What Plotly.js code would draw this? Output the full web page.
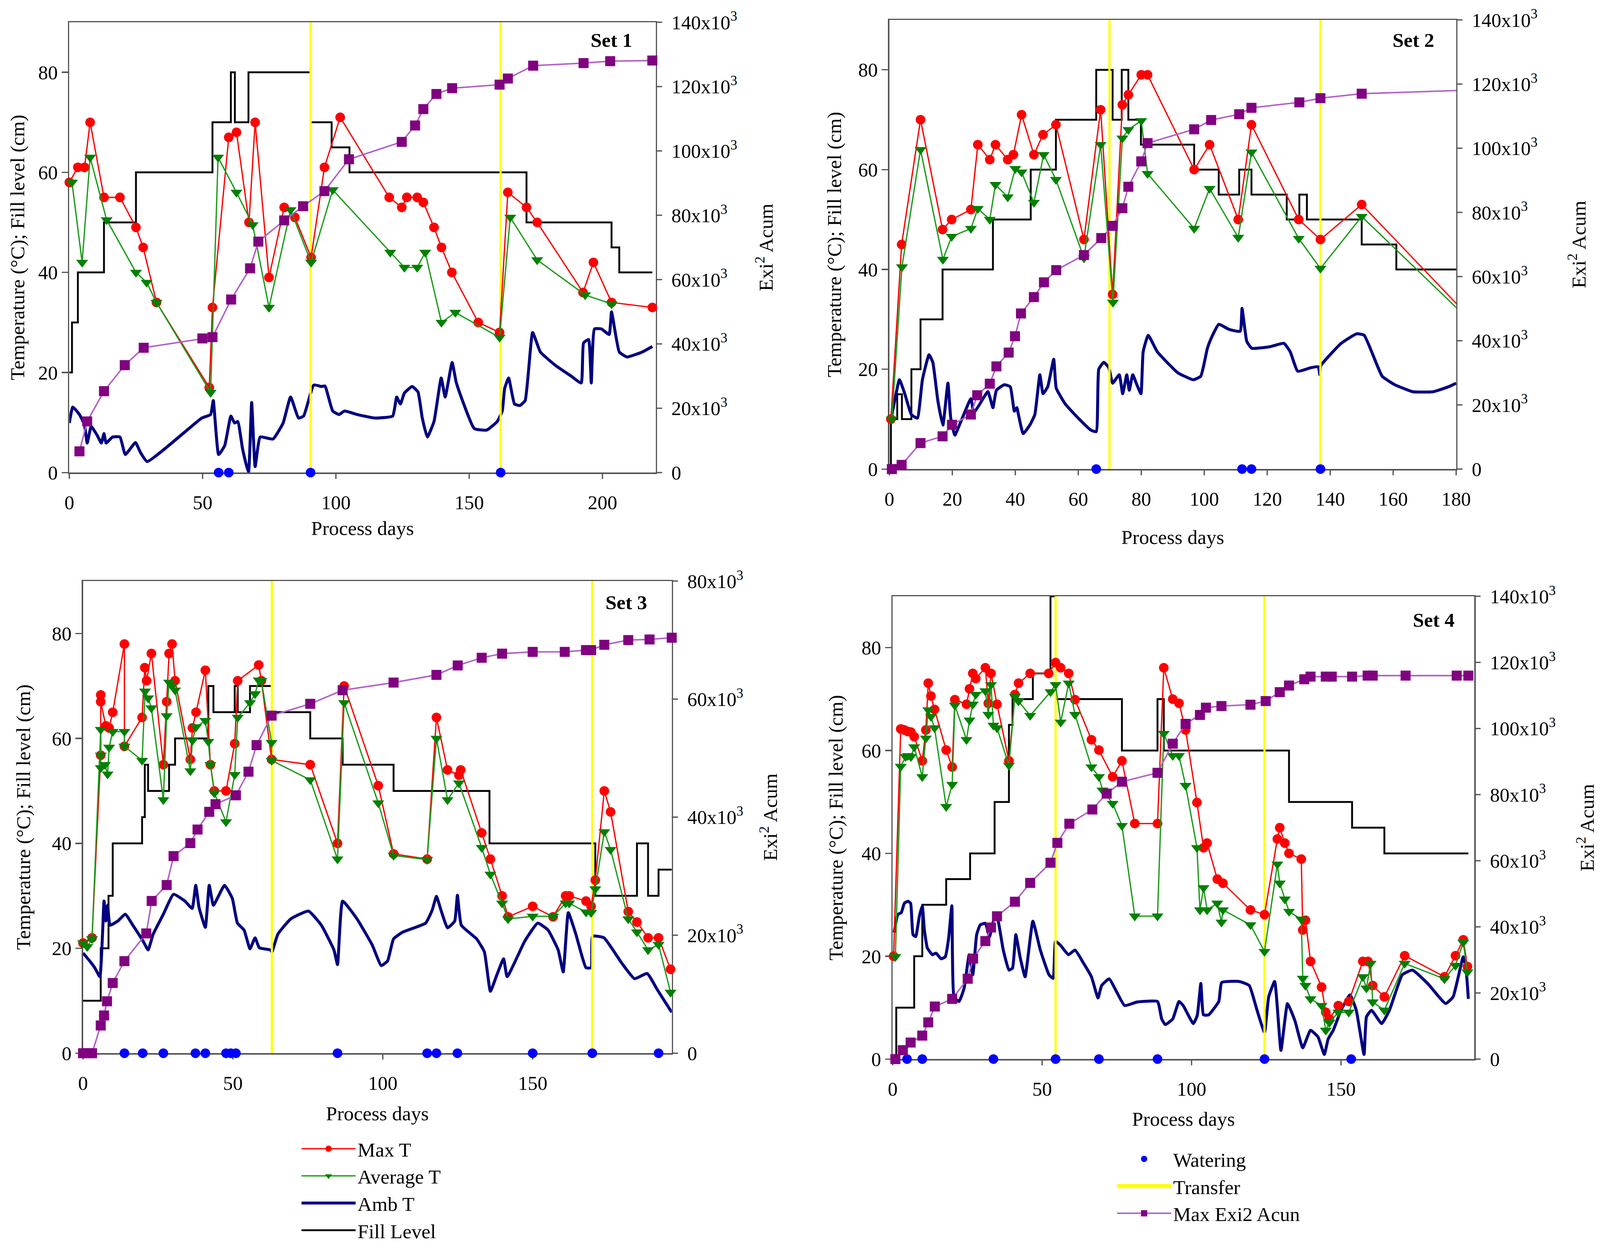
<!DOCTYPE html>
<html>
<head>
<meta charset="utf-8">
<script src="https://cdn.plot.ly/plotly-3.0.1.min.js"></script>
<style>html,body{margin:0;padding:0;background:#fff;overflow:hidden}#chart{position:absolute;left:0;top:0}</style>
</head>
<body>
<div id="chart"></div>
<script>
// ---------------- Set 1 ----------------
const s1MaxX = [0,3.2,5.7,7.8,13,19,25,27.7,32.7,52.5,53.7,59.8,62.7,67.4,69.7,74.9,80.6,84.6,90.7,95.7,101.6,120,124.7,126.6,130.5,132.8,136.8,139.6,143.5,153.4,161.4,164.5,171.5,175.5,192.7,196.6,203.4,218.7];
const s1MaxY = [58,61,61,70,55,55,49,45,34,17,33,67,68,50,70,39,53,51,43,61,71,55,53,55,55,54,49,45,40,30,28,56,53,50,36,42,34,33];
const s1AvgX = [1,4.8,7.8,14,25,29,32.7,53,55.8,62.7,68.8,74.9,83,90.7,98.8,120.4,125.7,130.5,133.5,139.6,144.8,161.4,165.4,175.5,193.5,203.4];
const s1AvgY = [58,42,63,50.5,40,38,34,16,63,56,49.5,33,52.5,42,56.5,44,41,41,44,30,32,27,51,42.5,35.5,33.7];
const s1ExiX = [3.8,6.7,13,20.8,27.9,49.9,53.7,60.7,67.8,70.9,80.6,87.7,95.7,104.9,124.7,129.7,132.8,137.7,143.6,161.4,164.5,174,192.9,202.9,218.7];
const s1ExiY = [6600,15900,25300,33400,38800,41700,42100,53800,63500,71800,78400,82800,87500,97400,102800,107900,113000,117700,119500,120600,122500,126500,127300,127900,128100];
const s1FillX = [0,1,3.2,13,25,53.7,60.6,62.1,67.2,90.5,null,90.5,98.4,105.1,171.5,203.4,206.3,218.7];
const s1FillY = [20,30,40,50,60,70,80,70,80,80,null,70,65,60,50,45,40,40];
const s1Water = [56,59.8,90.5,161.8];
const s1Transfer = [90.5,161.8];
const s1AmbX = [0,1.3,3.8,5.7,6.7,8.2,10.5,12,13,13.8,16.2,19,21,24.8,26.7,29.2,49.7,53,54,56,58.3,60.6,62,63.2,65,67.2,68.4,69.7,71.6,76.4,80.2,83,86,87.9,91.7,94.6,95.9,98.8,101.2,103.2,108,114.6,121.3,122.8,124.2,125.7,128.6,130.8,132.4,134.3,136.8,139.5,141,143.6,145.2,151.9,156.6,160.5,162.4,163.3,164.8,167,169,171,173.8,176.7,182.4,188.2,192,192.9,194.8,195.8,197,199.6,202.5,203.4,206.3,209.2,214.9,218.7];
const s1AmbY = [9.9,13.1,11.6,9.5,5.9,9.2,7.4,5.9,7.8,5.9,7.1,7.1,3.6,6,4,2.2,10.9,11.6,14.4,3.6,5.4,11.3,9.9,10.2,4.7,0,14,1.2,7.1,6.7,9.9,15.1,10.9,11.3,17.5,17.2,17.3,12.3,11.6,12.3,11.6,10.9,11.3,15.1,13.7,15.9,17.2,16.1,10.9,7.1,10.2,18.9,15.1,22,17.9,8.8,8.5,10.2,12.3,16.8,18.9,13.7,13.4,14.4,28,24.1,21.4,19.3,17.9,25.9,26.6,17.9,28.7,28.7,27.6,32.1,24.1,23.1,24.1,25.2];

// ---------------- Set 2 ----------------
const s2MaxX = [0.5,3.9,9.9,16.9,19.8,25.9,28.1,31.9,33.7,37.6,39.4,42,45.9,48.8,52.9,61.8,67.1,70.9,74,75.9,80,82,96.8,101.7,110.8,115,130,136.9,150,180.3];
const s2MaxY = [10,45,70,48,50,52,65,62,65,62,63,71,63,67,69,46,72,35,73,75,79,79,60,65,50,69,50,46,53,33];
const s2AvgX = [0.8,4,9.9,17,19.8,25.9,28.1,31.9,33.7,37.6,40,42,45.9,49,52.9,61.8,67.1,71,74,75.9,80,82,96.8,101.7,110.8,115,130,136.9,150,180.3];
const s2AvgY = [10,40.5,64,42,46.6,48.2,52.2,50,57,54.5,60.2,59.5,53.4,63,58,42.3,65,33.4,66.3,68,69.8,59.2,48.2,56.2,46.4,63.5,46.2,40.2,50.6,32.2];
const s2ExiX = [0.8,3.9,9.9,16.9,19.9,25.9,27.9,31.9,34,37.9,39.9,41.8,45.9,49.1,53,61.8,67.3,70.9,74,75.9,80,82,96.8,102.2,111.1,115,130.2,136.9,150,180.3];
const s2ExiY = [0,1300,8100,10200,13800,17000,23000,26600,32000,36300,41400,48500,53600,58200,62000,66700,72000,75800,81300,88000,95900,101600,105900,108800,110600,112600,114300,115600,117000,118000];
const s2FillX = [0,0.5,2.5,4,7,9.9,16.9,32.9,44.9,52.9,65.7,70.9,73.8,75.9,79.9,96.8,104.6,111.1,115,126.2,130.2,132.6,150,161,180];
const s2FillY = [0,10,15,10,20,30,40,50,60,70,80,70,80,70,65,60,55,60,55,50,55,50,45,40,40];
const s2Water = [65.7,112,115,136.9];
const s2Transfer = [69.9,136.9];
const s2AmbX = [0.5,1.6,3.2,4.9,7,8.9,10.5,12.6,13.8,15.4,17,18.6,19.5,20.8,22.7,25.9,26.8,28.4,31.3,32.9,34,36.5,38.4,39.7,40.5,41,42.5,44.6,46.2,47.8,48.8,50.3,52.2,53,55.9,60,64,65.7,66.5,68.1,69.7,70.9,73,74.1,75.4,76.2,77.3,78.6,79.9,80.6,82.2,85.1,91.6,96.5,98.9,101,102.2,104.6,107.8,111.4,112,113.5,115.1,120.8,125.3,127.3,129.7,133.8,136.2,136.7,137,143.5,148.4,150.8,156.5,160.5,166.2,172.7,177.6,180];
const s2AmbY = [10,13.4,17.9,15.1,10.9,10.2,17.9,22.9,21.4,13.7,8.8,17.2,10.2,6.8,9.5,14.1,11.3,12.7,15.5,12.3,15.8,16.9,16.5,11.6,12.3,10.9,7.1,8.8,10.9,18.9,15.1,16.5,22,16.2,13,10.2,7.8,7.5,20,21.4,20.3,17.2,18.9,15.1,18.9,15.8,18.9,16.9,15.1,23.5,26.8,23.5,19.3,17.9,18.6,24.2,26.2,29,28,27.6,32.2,25.6,24.2,24.5,25.2,23.5,19.6,20.3,20.5,18.9,20.7,25.2,27.1,26.8,18.6,16.9,15.5,15.5,16.5,17.2];

// ---------------- Set 3 ----------------
const s3MaxX = [0,3,5.9,5.9,5.9,7.6,8.7,9.9,13.8,13.8,19.7,20.6,21.2,22.8,26.8,27.9,28.7,29.7,30.7,35.8,36.5,37.7,40.8,42.5,43.8,47.7,50.6,51.6,58.6,59.5,62.9,75.8,84.9,87.1,98.5,103.6,114.8,117.9,121.6,125.4,126,133,135.9,139.8,141.8,150,156.8,161,162.2,167.8,169.5,170.9,173.9,176,181.9,184.8,188.5,192,196];
const s3MaxY = [21,22,56.8,68.3,67,62.4,62,65,78,58.5,64,73.5,71,76.2,55,67,76.2,78,71,56,62,65,73,55,50,50,59,71,74,71,56,55,40,70,51,38,37,64,54,53,54,42,37,30,26,28,26,30,30,29,28,33,50,46,27,25,22,22,16];
const s3AvgX = [0,1.4,3,5.9,5.9,5.9,7.3,8.2,8.7,9.9,13.8,13.8,19.7,20.7,21.7,22.8,26.8,27.9,28.7,29.7,30.7,35.8,36.5,37.7,40.8,41.8,42.5,43.8,47.7,50.6,51.6,55.7,57.4,58.6,59.5,62.9,62.9,75.8,84.9,87.1,98.5,103.6,114.8,117.9,121.6,125.4,133,135.9,139.8,141.8,150,156.8,161,162.2,167.8,169.5,170.9,173.9,176,181.9,184.8,188.5,192,196];
const s3AvgY = [21,20.3,21.8,61.7,56.8,54.4,55,53.2,58.3,61.3,61.3,58.5,55.8,69,67.7,65.8,48.3,64.3,70.7,70,69.2,53.8,59.6,62.2,63.4,59.4,55,49.6,44.1,53.1,64,66.8,68.5,71.1,71,59.2,55.8,52.1,37,66.8,47.7,37.7,36.9,60,48.3,51.5,39.2,34.1,28.6,25.6,26.1,26.1,28.6,28.6,26.9,26.8,31.3,42.2,38.8,25.6,23.1,19.7,20.7,11.6];
const s3ExiX = [0,1.4,3,5.9,7,8,9.9,13.8,21.1,22.9,27.9,30.2,35.8,38.2,42.1,44.2,51,55.2,57.9,62.9,75.8,86.6,103.6,117.9,125,133,139.8,150,160.7,167.8,169.5,173.9,181.9,189,196.4];
const s3ExiY = [0,0,0,4700,6400,8800,11900,15600,20300,25800,28500,33400,35600,37900,40900,42200,43700,47700,52200,57200,59200,61500,62800,64100,65700,67000,67700,68000,68000,68300,68300,69200,70000,70100,70400];
const s3FillX = [0,5.9,8.5,9.9,19.7,20.6,21.7,28.7,30.7,41.8,43.5,50.6,51.6,55.7,62.9,null,62.9,75.8,86.6,103.6,135.6,170.9,184.8,188.5,192,196.4];
const s3FillY = [10,20,30,40,45,55,50,55,60,70,65,70,65,70,70,null,65,60,55,50,40,30,40,30,35,35];
const s3Water = [13.8,19.9,26.8,37.5,40.8,47.7,49.3,51,84.9,114.8,117.9,124.9,150,169.9,192];
const s3Transfer = [63,169.9];
const s3AmbX = [0,2.2,3.9,5.6,6.5,7,7.6,8.2,9,11.6,14.1,16.6,20,21.7,23.4,26.8,30.2,34,36.4,37.6,38.7,40.8,42.1,43.5,47.2,49.8,51.5,53.7,55.7,57.4,58.8,62.5,63,65,69.3,75.2,79.5,83.7,84.9,86.6,91.4,96.5,99.5,101.6,103.6,106.7,114.3,116.5,117.9,119.4,121.6,124,124.9,126.2,131.3,133.9,135.9,138.1,140.3,141.5,147.4,151.7,155.1,158.5,160.2,161.9,164.4,167.8,169.5,170,173.8,179.7,184,188.2,191.6,196.4];
const s3AmbY = [19.1,17.6,16.3,14.6,22.7,29,25.2,28.2,24.4,25.2,26.5,24.4,21.4,19.7,22.7,26.5,30.3,29,27.6,32,27.8,24,32,28.2,32,29.5,24.8,23.5,19.9,22,20.1,19.7,19.3,22.7,25.6,27.1,24.4,19.7,16.9,29,25.6,20.6,16.7,17.6,21.8,23.1,24.8,27.3,29.9,27.3,23.9,25.2,30.1,24.4,21.8,19.3,11.8,15,18,14.6,21.4,24.8,23.5,19.7,15.5,26.8,22.7,16.3,16.3,22.3,22,17.2,14.2,15.2,12.1,7.8];

// ---------------- Set 4 ----------------
const s4MaxX = [0.3,2.7,3.9,5.1,6.1,7.2,9.9,11.1,11.9,12.8,14,17.9,19.9,20.8,24.7,25.7,26.8,27.8,31,32,32.9,34.9,38.9,40.9,42.1,46,52.2,54.5,56.2,58.9,61,66.5,69,73.6,76.7,81,88.6,90.7,93.7,95.8,98,101.8,104,105.2,108.6,110.5,119.7,124.4,128.7,129.5,131.2,132.6,136.7,137.2,138.1,139.8,143.5,144.9,146.1,149.1,152.6,157.3,159,160.6,164.5,171.3,184.6,188.3,190.9,192.3];
const s4MaxY = [20,64.2,64,63.7,63.6,62.7,58,64,73.1,70.6,68,60.1,56.8,69.9,69,72,75,74,76.1,69.2,75,69,58,70.9,73.1,75,75,77.1,76.1,75,69.9,62.1,60.1,54.9,58,45.8,45.8,76.1,70,69.2,64,49.9,41.1,42,35,34.2,29,28.1,42.8,45,42,40,38.9,25.1,27,19,14,9.1,7.8,10.4,11.2,19,19,14.3,12.1,20.1,16,20.1,23.2,18];
const s4AvgX = [0.9,2.7,4.3,5.1,6.1,7.2,9.9,11.1,11.9,12.8,14,17.9,19.9,20.8,24.7,25.7,26.8,27.8,31,32,32.9,33.7,34.9,38.9,40.9,42.1,46,52.8,54.5,56.2,58.9,61,66.5,69,70.2,73.6,76.7,81,88.6,90.7,93.7,95.8,98,101.8,102.8,104,105.2,108.6,110,110.5,119.7,124.4,128.7,129.5,131.2,132.6,136.7,137.2,138.1,139.8,143.5,144.9,146.1,149.1,152.6,157.3,158.5,159.9,160.6,164.5,171.3,184.6,188.3,190.9,192.3];
const s4AvgY = [19.9,56.9,58.8,59,58.8,60.7,54.9,62.4,67.9,66.6,64.4,49.1,53.4,68.8,62.1,65.9,69,70.9,71.6,67,72.8,64.9,64.4,57.1,70.5,69.6,66.8,71.4,72.8,65.5,73.1,67,56.8,54.9,52.3,49.7,45.4,27.8,27.8,63.3,59,59,53.2,41.1,29,33.3,29,30.3,26.6,29,26.1,20.9,37.9,34.2,31.1,28.7,27.2,15.7,14.3,11.7,10.4,5.6,7.1,9.1,9.1,16,13.8,18.6,11.1,9.5,18.6,15.6,18.2,22.7,16.9];
const s4ExiX = [0.9,3.4,6,9.9,11.9,14.1,19.9,25.1,26.9,31,32.9,34.9,40.9,46,52.8,55.1,59.1,66.8,71.6,76.7,88.6,93.7,98,102.8,104.8,110,119.7,124.8,129.5,132.6,137.7,139.8,144.9,146.9,153.7,158.9,160.6,171.6,188.7,192.6];
const s4ExiY = [0,2700,5000,7100,11100,15900,18200,24300,30400,35700,39800,43200,47600,53300,59400,65400,71200,75500,80300,83900,86600,95400,101400,104100,106300,106800,107200,108300,111000,113000,114900,115700,115700,115700,115700,116000,116000,116000,116000,116000];
const s4FillX = [0.9,1.2,7.2,9.9,17.9,25.9,34.1,38.9,40.1,46.9,52.8,54.5,null,54.5,76.7,88.6,90.7,132.6,153.7,164.5,192.6];
const s4FillY = [0,10,20,30,35,40,50,65,70,75,90,90,null,70,60,70,60,50,45,40,40];
const s4Water = [4.8,9.9,33.7,54.5,69,88.6,124.4,153.4];
const s4Transfer = [54.5,124.4];
const s4AmbX = [0.5,1.7,2.9,3.9,5.1,6,6.8,7.7,8.9,9.9,10.6,11.6,13.3,14.5,16.2,17.6,18.7,19.8,20.5,22.2,23.9,25.6,26.8,28.1,29.3,31,32.4,33.7,34.9,37,38.9,40.1,41.2,42.6,44.3,46.9,49.4,52.3,53.7,54.5,56.2,58.8,61,63.9,66.5,68.7,69.9,72.4,75,77.6,81.8,88.6,90,91.2,93.7,95.8,97.2,100.6,101.9,103.1,104,105.7,109.1,110.1,115.9,119.3,121.9,124.4,125.8,127.8,129.9,132.1,134.6,137.2,139.8,142.3,144.4,145.7,147.4,150,153,155.1,157.7,158.5,160.2,163.6,166.2,170.5,173.9,179,185,187.5,190.9,191.8,192.6];
const s4AmbY = [24.6,28.1,28.5,30.3,30.7,30.3,24.2,23.8,27.7,29.8,25.1,21.6,20.3,20.6,19.5,19.9,23.4,29.8,12.1,11.2,13.8,20.3,16.4,24.2,26.1,26.4,23.8,26.8,27.7,21.2,17.3,17.7,24.2,19.9,16,26.8,21.2,16.4,15.7,22.9,22.1,20.3,21.2,18.6,16,11.9,14.3,15.6,13,10.4,11.1,11.2,7.8,6.7,7.8,11.2,10.4,6.9,8.5,14.7,8.6,8.6,11.2,14.9,15.1,14.3,9.5,5.2,12.1,15.1,1.7,10.8,7.4,2.2,5.6,4.3,0.9,3.9,5.6,9.5,12.5,9.5,0.9,8.2,9.5,6.9,9.5,16.4,17.3,14.7,10.8,12.1,19.9,17.7,11.7];

// ---------------- Axis tick labels / names ----------------
const leftTicks = [0,20,40,60,80];
const rightTicks140 = [0,20000,40000,60000,80000,100000,120000,140000];
const rightTicks80 = [0,20000,40000,60000,80000];
const expLabel = v => v === 0 ? '0' : (v/1000) + 'x10<sup>3</sup>';
const seriesNames = ['Max T','Average T','Amb T','Fill Level','Watering','Transfer','Max Exi2 Acun'];
const setTitles = ['Set 1','Set 2','Set 3','Set 4'];
const xTitle = 'Process days';
const yTitle = 'Temperature (°C); Fill level (cm)';
const y2Title = 'Exi<sup>2</sup> Acum';

// ---------------- Geometry (reference is 4316 x 3191) ----------------
const W = 4316, H = 3191;
const VW = window.innerWidth || W, VH = window.innerHeight || H;
const S = Math.min(VW / W, VH / H);
const px = v => v * S;

const FONT = 'Liberation Serif';
const C = {max:'#FF0000', avg:'#008000', avgLine:'#1A9A1A', amb:'#000080', fill:'#000000',
           water:'#0000FF', transfer:'#FFFF00', exi:'#800080', exiLine:'#B060C8', axis:'#555555'};

const sets = [
  {maxX:s1MaxX,maxY:s1MaxY,avgX:s1AvgX,avgY:s1AvgY,exiX:s1ExiX,exiY:s1ExiY,fillX:s1FillX,fillY:s1FillY,water:s1Water,transfer:s1Transfer,ambX:s1AmbX,ambY:s1AmbY},
  {maxX:s2MaxX,maxY:s2MaxY,avgX:s2AvgX,avgY:s2AvgY,exiX:s2ExiX,exiY:s2ExiY,fillX:s2FillX,fillY:s2FillY,water:s2Water,transfer:s2Transfer,ambX:s2AmbX,ambY:s2AmbY},
  {maxX:s3MaxX,maxY:s3MaxY,avgX:s3AvgX,avgY:s3AvgY,exiX:s3ExiX,exiY:s3ExiY,fillX:s3FillX,fillY:s3FillY,water:s3Water,transfer:s3Transfer,ambX:s3AmbX,ambY:s3AmbY},
  {maxX:s4MaxX,maxY:s4MaxY,avgX:s4AvgX,avgY:s4AvgY,exiX:s4ExiX,exiY:s4ExiY,fillX:s4FillX,fillY:s4FillY,water:s4Water,transfer:s4Transfer,ambX:s4AmbX,ambY:s4AmbY}
];

const axIds = [
  {x:'x', y:'y', y2:'y2'},
  {x:'x2', y:'y3', y2:'y4'},
  {x:'x3', y:'y5', y2:'y6'},
  {x:'x4', y:'y7', y2:'y8'}
];

const traces = [];
sets.forEach((s, i) => {
  const a = axIds[i];
  const leg1 = (i === 2);
  const leg2 = (i === 3);
  traces.push({type:'scatter', mode:'lines', x:s.fillX, y:s.fillY, xaxis:a.x, yaxis:a.y,
    line:{color:C.fill, width:px(5), shape:'hv'}, connectgaps:false,
    name:seriesNames[3], showlegend:leg1, legend:'legend', legendrank:4});
  traces.push({type:'scatter', mode:'lines', x:s.ambX, y:s.ambY, xaxis:a.x, yaxis:a.y,
    line:{color:C.amb, width:px(8), shape:'spline', smoothing:0.4}, name:seriesNames[2], showlegend:leg1, legend:'legend', legendrank:3});
  const tx = [], ty = [];
  s.transfer.forEach(d => { tx.push(d, d, null); ty.push(0, 90, null); });
  traces.push({type:'scatter', mode:'lines', x:tx, y:ty, xaxis:a.x, yaxis:a.y,
    line:{color:C.transfer, width:px(6)}, name:seriesNames[5], showlegend:false, hoverinfo:'skip'});
  traces.push({type:'scatter', mode:'lines+markers', x:s.maxX, y:s.maxY, xaxis:a.x, yaxis:a.y,
    line:{color:C.max, width:px(3.5)}, marker:{color:C.max, size:px(26), symbol:'circle'}, cliponaxis:false,
    name:seriesNames[0], showlegend:leg1, legend:'legend', legendrank:1});
  traces.push({type:'scatter', mode:'lines+markers', x:s.avgX, y:s.avgY, xaxis:a.x, yaxis:a.y,
    line:{color:C.avgLine, width:px(3.5)}, marker:{color:C.avg, size:px(28), symbol:'triangle-down'}, cliponaxis:false,
    name:seriesNames[1], showlegend:leg1, legend:'legend', legendrank:2});
  traces.push({type:'scatter', mode:'markers', x:s.water, y:s.water.map(() => 0), xaxis:a.x, yaxis:a.y,
    marker:{color:C.water, size:px(26), symbol:'circle'}, cliponaxis:false,
    name:seriesNames[4], showlegend:leg2, legend:'legend2', legendrank:1});
  traces.push({type:'scatter', mode:'lines+markers', x:s.exiX, y:s.exiY, xaxis:a.x, yaxis:a.y2,
    line:{color:C.exiLine, width:px(4)}, marker:{color:C.exi, size:px(27), symbol:'square'}, cliponaxis:false,
    name:seriesNames[6], showlegend:leg2, legend:'legend2', legendrank:3});
});
// key entry for the transfer lines (thick yellow band, as in the original key)
traces.push({type:'scatter', mode:'lines', x:[null], y:[null], xaxis:'x4', yaxis:'y7',
  line:{color:C.transfer, width:30}, name:seriesNames[5], showlegend:true, legend:'legend2', legendrank:2, hoverinfo:'skip'});

const panels = [
  {x0:187, x1:1769, top:57, bot:1211, xr:[0,220], xt:[0,50,100,150,200], yr2:[0,140000], rt:rightTicks140,
   xStand:22, yStand:20, y2Stand:60, setX:1708, setY:103},
  {x0:2399, x1:3928, top:51, bot:1202, xr:[0,180], xt:[0,20,40,60,80,100,120,140,160,180], yr2:[0,140000], rt:rightTicks140,
   xStand:55, yStand:29, y2Stand:93, setX:3871, setY:103},
  {x0:224, x1:1812, top:1489, bot:2699, xr:[0,196.4], xt:[0,50,100,150], yr2:[0,80000], rt:rightTicks80,
   xStand:34, yStand:42, y2Stand:55, setX:1748, setY:1543},
  {x0:2408, x1:3977, top:1528, bot:2714, xr:[0,194.6], xt:[0,50,100,150], yr2:[0,140000], rt:rightTicks140,
   xStand:33, yStand:34, y2Stand:67, setX:3926, setY:1588}
];

const TICK = 17;          // visible tick length (reference px)
const XLAB_PAD = 15;      // extra distance of x tick labels below the ticks
const RLAB_PAD = 11;      // extra distance of right-axis tick labels beyond the ticks

const tickFont = {family:FONT, size:px(53), color:'#000'};
const titleFont = {family:FONT, size:px(54), color:'#000'};
const common = {showgrid:false, zeroline:false, showline:true, linecolor:C.axis, linewidth:px(3.5),
  ticks:'outside', ticklen:px(TICK), tickwidth:px(3.5), tickcolor:C.axis, tickfont:tickFont, layer:'below traces', fixedrange:true};

const legendBase = {xanchor:'left', yanchor:'top', bgcolor:'rgba(0,0,0,0)', borderwidth:0,
  font:{family:FONT, size:px(54), color:'#000'}, itemwidth:Math.max(30, px(146)), traceorder:'normal', itemsizing:'trace'};

const layout = {
  width:VW, height:VH, autosize:false,
  margin:{l:0, r:0, t:0, b:0, pad:0},
  paper_bgcolor:'#fff', plot_bgcolor:'rgba(0,0,0,0)',
  font:{family:FONT, size:px(53), color:'#000'},
  showlegend:true,
  legend:Object.assign({}, legendBase, {x:808/W, y:1-2904/H}),
  legend2:Object.assign({}, legendBase, {x:3008/W, y:1-2930/H}),
  annotations:[],
  shapes:[],
  hovermode:false
};

panels.forEach((p, i) => {
  const a = axIds[i];
  const xk = 'xaxis' + (i === 0 ? '' : (i + 1));
  const yk = 'yaxis' + (i === 0 ? '' : (2 * i + 1));
  const y2k = 'yaxis' + (2 * i + 2);
  const plotWpx = (p.x1 - p.x0) * VW / W;
  const plotHpx = (p.bot - p.top) * VH / H;
  layout[xk] = Object.assign({}, common, {domain:[p.x0 / W, p.x1 / W], anchor:a.y, range:p.xr, tickmode:'array', tickvals:p.xt,
    mirror:true, ticklen:px(TICK + XLAB_PAD), tickcolor:'rgba(0,0,0,0)',
    title:{text:xTitle, font:titleFont, standoff:px(p.xStand)}});
  layout[yk] = Object.assign({}, common, {domain:[1 - p.bot / H, 1 - p.top / H], anchor:a.x, range:[0,90], tickmode:'array', tickvals:leftTicks,
    ticklabelstandoff:px(22),
    title:{text:yTitle, font:titleFont, standoff:px(p.yStand)}});
  layout[y2k] = Object.assign({}, common, {overlaying:a.y, side:'right', anchor:a.x, range:p.yr2,
    tickmode:'array', tickvals:p.rt, ticktext:p.rt.map(expLabel),
    ticklen:px(TICK + RLAB_PAD), tickcolor:'rgba(0,0,0,0)',
    title:{text:y2Title, font:titleFont, standoff:px(p.y2Stand)}});
  // visible tick marks (the axis ticks above are transparent and only space the labels)
  p.xt.forEach(v => {
    const f = (v - p.xr[0]) / (p.xr[1] - p.xr[0]);
    layout.shapes.push({type:'line', xref:a.x + ' domain', yref:a.y + ' domain',
      x0:f, x1:f, y0:0, y1:-px(TICK) / plotHpx, line:{color:C.axis, width:px(3.5)}, layer:'below'});
  });
  p.rt.forEach(v => {
    const f = (v - p.yr2[0]) / (p.yr2[1] - p.yr2[0]);
    layout.shapes.push({type:'line', xref:a.x + ' domain', yref:a.y2 + ' domain',
      x0:1, x1:1 + px(TICK) / plotWpx, y0:f, y1:f, line:{color:C.axis, width:px(3.5)}, layer:'below'});
  });
  layout.annotations.push({text:'<b>' + setTitles[i] + '</b>', xref:'paper', yref:'paper',
    x:p.setX / W, y:1 - p.setY / H, xanchor:'right', yanchor:'middle', showarrow:false,
    font:{family:FONT, size:px(54), color:'#000'}});
});

const el = document.getElementById('chart');
el.style.width = VW + 'px';
el.style.height = VH + 'px';
Plotly.newPlot(el, traces, layout, {displayModeBar:false, staticPlot:true});
</script>
</body>
</html>
